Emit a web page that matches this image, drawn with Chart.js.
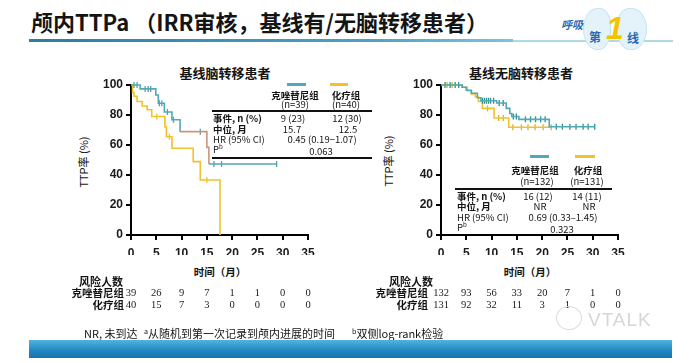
<!DOCTYPE html>
<html>
<head>
<meta charset="utf-8">
<script src="https://cdn.jsdelivr.net/npm/chart.js@4.4.0/dist/chart.umd.min.js"></script>
<style>
  body { margin: 0; background: #fff; }
  #page { position: relative; width: 690px; height: 363px; overflow: hidden; background: #fff;
          font-family: "Noto Sans CJK SC", "Liberation Sans", sans-serif; color: #141414; }
  canvas { position: absolute; left: 0; top: 0; }
  .t { position: absolute; white-space: nowrap; line-height: 1; transform: translateY(-50%); }
  .c { transform: translate(-50%, -50%); }
  .r { transform: translate(-100%, -50%); }
  .b { font-weight: bold; }
  .tb { font-size: 9.5px; }
  .ln { position: absolute; height: 3px; }
  .hl { position: absolute; height: 2px; background: #111; }
  .vt { transform: translate(-50%, -50%) rotate(-90deg); font-size: 11px; }
  sup { font-size: 65%; vertical-align: 4px; line-height: 0; }
</style>
</head>
<body>
<div id="page">
  <!-- header -->
  <div class="t b" style="left:31px;top:21px;font-size:22px;">颅内TTPa （IRR审核，基线有/无脑转移患者）</div>
  <div style="position:absolute;left:29px;top:39px;width:484px;height:3px;background:linear-gradient(to right,#2b7d9e,#4aa3c2 70%,#7cc4da);"></div>
  <div style="position:absolute;left:513px;top:40px;width:160px;height:2px;background:#b3d9e6;"></div>
  <div style="position:absolute;left:583px;top:8px;width:26px;height:40px;border-radius:50% 40% 45% 50%;background:#e4f3f9;border:1px solid #c5e5f1;"></div>
  <div style="position:absolute;left:617px;top:8px;width:28px;height:40px;border-radius:40% 50% 50% 45%;background:#e4f3f9;border:1px solid #c5e5f1;"></div>
  <div class="t b" style="left:561px;top:24px;font-size:11px;font-style:italic;color:#2a68b4;">呼吸</div>
  <div class="t b" style="left:589px;top:37px;font-size:12px;color:#2a68b4;">第</div>
  <div class="t b" style="left:606px;top:28px;font-size:32px;font-style:italic;color:#f2c400;font-family:'Liberation Sans';">1</div>
  <div class="t b" style="left:627px;top:38px;font-size:12px;color:#2a68b4;">线</div>

  <!-- chart titles -->
  <div class="t c b" style="left:225px;top:72px;font-size:13px;">基线脑转移患者</div>
  <div class="t c b" style="left:521px;top:72px;font-size:13px;">基线无脑转移患者</div>

  <!-- axis titles -->
  <div class="t vt" style="left:83px;top:162px;">TTP率 (%)</div>
  <div class="t vt" style="left:388px;top:161px;">TTP率 (%)</div>
  <div class="t c b" style="left:220px;top:272px;font-size:10.5px;">时间（月）</div>
  <div class="t c b" style="left:530px;top:272px;font-size:10.5px;">时间（月）</div>

  <canvas id="chartLeft" width="690" height="363"></canvas>
  <canvas id="chartRight" width="690" height="363"></canvas>

  <!-- left legend + summary table -->
  <div class="ln" style="left:287px;top:83px;width:19px;background:#4fa9b9;"></div>
  <div class="ln" style="left:330px;top:83px;width:18px;background:#f0c22c;"></div>
  <div class="t c b tb" style="left:295px;top:96px;">克唑替尼组</div>
  <div class="t c tb" style="left:295px;top:105px;">(n=39)</div>
  <div class="t c b tb" style="left:346px;top:96px;">化疗组</div>
  <div class="t c tb" style="left:346px;top:105px;">(n=40)</div>
  <div class="hl" style="left:212px;top:110px;width:160px;"></div>
  <div class="t b tb" style="left:213px;top:119px;">事件, n (%)</div>
  <div class="t c tb" style="left:293px;top:119px;">9 (23)</div>
  <div class="t c tb" style="left:347px;top:119px;">12 (30)</div>
  <div class="t b tb" style="left:213px;top:130px;">中位, 月</div>
  <div class="t c tb" style="left:292px;top:130px;">15.7</div>
  <div class="t c tb" style="left:348px;top:130px;">12.5</div>
  <div class="t tb" style="left:213px;top:140px;">HR (95% CI)</div>
  <div class="t c tb" style="left:322px;top:140px;">0.45 (0.19−1.07)</div>
  <div class="t tb" style="left:213px;top:150px;">P<sup>b</sup></div>
  <div class="t c tb" style="left:321px;top:152px;">0.063</div>
  <div class="hl" style="left:212px;top:157px;width:160px;"></div>

  <!-- right legend + summary table -->
  <div class="ln" style="left:530px;top:155px;width:19px;background:#4fa9b9;"></div>
  <div class="ln" style="left:575px;top:155px;width:20px;background:#f0c22c;"></div>
  <div class="t c b tb" style="left:535px;top:171px;">克唑替尼组</div>
  <div class="t c tb" style="left:537px;top:182px;">(n=132)</div>
  <div class="t c b tb" style="left:588px;top:171px;">化疗组</div>
  <div class="t c tb" style="left:587px;top:182px;">(n=131)</div>
  <div class="hl" style="left:455px;top:188px;width:157px;"></div>
  <div class="t b tb" style="left:457px;top:197px;">事件, n (%)</div>
  <div class="t c tb" style="left:538px;top:197px;">16 (12)</div>
  <div class="t c tb" style="left:587px;top:197px;">14 (11)</div>
  <div class="t b tb" style="left:457px;top:207px;">中位, 月</div>
  <div class="t c tb" style="left:540px;top:207px;">NR</div>
  <div class="t c tb" style="left:589px;top:207px;">NR</div>
  <div class="t tb" style="left:457px;top:218px;">HR (95% CI)</div>
  <div class="t c tb" style="left:563px;top:218px;">0.69 (0.33–1.45)</div>
  <div class="t tb" style="left:457px;top:228px;">P<sup>b</sup></div>
  <div class="t c tb" style="left:562px;top:230px;">0.323</div>

  <!-- risk table labels -->
  <div class="t b" style="left:79px;top:281px;font-size:11px;">风险人数</div>
  <div class="t r b" style="left:124px;top:293px;font-size:10.5px;">克唑替尼组</div>
  <div class="t r b" style="left:124px;top:305px;font-size:10.5px;">化疗组</div>
  <div class="t b" style="left:389px;top:281px;font-size:11px;">风险人数</div>
  <div class="t r b" style="left:428px;top:293px;font-size:10.5px;">克唑替尼组</div>
  <div class="t r b" style="left:428px;top:305px;font-size:10.5px;">化疗组</div>

  <!-- footnote, watermark, band -->
  <div class="t" style="left:84px;top:333px;font-size:11px;">NR, 未到达</div>
  <div class="t" style="left:144px;top:333px;font-size:11px;"><sup>a</sup>从随机到第一次记录到颅内进展的时间</div>
  <div class="t" style="left:352px;top:333px;font-size:11px;"><sup>b</sup>双侧log-rank检验</div>
  <div style="position:absolute;left:556px;top:306px;width:24px;height:22px;border-radius:50%;border:1.5px solid #dcdcdc;"></div>
  <div class="t" style="left:588px;top:319px;font-size:19px;color:#d6d6d6;font-family:'Liberation Sans';letter-spacing:1px;">VTALK</div>
  <div style="position:absolute;left:29px;top:340px;width:643px;height:18px;background:linear-gradient(to bottom,#4fb5de,#1f86c2 60%,#1a73ad);"></div>
</div>

<script>
const TEAL = '#4fa9b9';
const YELLOW = '#f0c22c';

// x positions of the number-at-risk columns (months)
const riskTimes = [0, 5, 10, 15, 20, 25, 30, 35];

// baseline brain metastases: KM steps (month, TTP %)
const leftCrizTime = [0, 1.8, 4.9, 5.4, 6.6, 8.1, 9.7, 15.0, 15.4, 28.8];
const leftCrizRate = [100, 97.4, 93.3, 87.8, 82.0, 76.8, 68.9, 58.4, 47.3, 47.3];
const leftCrizCensorTime = [0.6, 1.2, 2.8, 3.4, 3.9, 5.6, 6.1, 7.2, 8.4, 13.7, 16.4, 17.9, 28.8];
const leftCrizCensorRate = [100, 100, 97.4, 97.4, 97.4, 87.8, 87.8, 82.0, 76.8, 68.9, 47.3, 47.3, 47.3];
const leftChemoTime = [0, 0.3, 0.6, 1.2, 2.2, 3.2, 4.1, 6.7, 7.0, 8.1, 12.3, 13.7, 17.6];
const leftChemoRate = [100, 95, 92.5, 89, 86, 83.5, 79, 72, 65.5, 57.8, 48.9, 36.7, 0];
const leftChemoCensorTime = [5.1, 7.6, 15.0];
const leftChemoCensorRate = [79, 65.5, 36.7];
const leftRiskCriz = [39, 26, 9, 7, 1, 1, 0, 0];
const leftRiskChemo = [40, 15, 7, 3, 0, 0, 0, 0];

// no baseline brain metastases
const rightCrizTime = [0, 4.2, 5.0, 6.0, 7.2, 7.9, 11.0, 12.9, 13.6, 14.0, 15.4, 21.4, 30.4];
const rightCrizRate = [100, 98.5, 96.5, 94.5, 91.5, 89.5, 88.0, 84.4, 81.0, 79.0, 77.1, 72.2, 72.2];
const rightCrizCensorTime = [0.8, 1.8, 2.8, 3.5, 8.2, 8.6, 9.0, 9.4, 9.8, 10.4, 11.5, 12.3, 14.3, 14.9,
                             16.7, 17.7, 18.7, 19.7, 20.6, 22.8, 24.0, 25.5, 26.7, 28.1, 29.1, 30.4];
const rightCrizCensorRate = [100, 100, 100, 100, 89.5, 89.5, 89.5, 89.5, 89.5, 89.5, 88.0, 88.0, 79.0, 79.0,
                             77.1, 77.1, 77.1, 77.1, 77.1, 72.2, 72.2, 72.2, 72.2, 72.2, 72.2, 72.2];
const rightChemoTime = [0, 4.1, 5.2, 6.0, 6.8, 7.4, 8.2, 10.5, 13.4, 21.8];
const rightChemoRate = [100, 98.5, 96.2, 94.0, 92.0, 89.0, 84.4, 78.0, 71.8, 71.8];
const rightChemoCensorTime = [1.2, 2.2, 9.2, 11.4, 12.3, 14.2, 15.9, 17.2, 18.6, 20.2, 21.8];
const rightChemoCensorRate = [100, 100, 84.4, 78.0, 78.0, 71.8, 71.8, 71.8, 71.8, 71.8, 71.8];
const rightRiskCriz = [132, 93, 56, 33, 20, 7, 1, 0];
const rightRiskChemo = [131, 92, 32, 11, 3, 1, 0, 0];

function points(times, rates) {
    return times.map((t, i) => ({ x: t, y: rates[i] }));
}

function kmLine(times, rates, color, segmentColor) {
    const ds = {
        data: points(times, rates),
        stepped: 'before',
        borderColor: color,
        borderWidth: 1.6,
        pointRadius: 0,
        fill: false,
        clip: false
    };
    if (segmentColor) ds.segment = { borderColor: segmentColor };
    return ds;
}

function censorMarks(times, rates, color) {
    return {
        data: points(times, rates),
        showLine: false,
        pointStyle: 'line',
        rotation: 90,
        pointRadius: 3,
        borderColor: color,
        borderWidth: 1.3,
        clip: false
    };
}

// numbers at risk, drawn under the x axis at the tick positions
const riskPlugin = {
    id: 'riskTable',
    afterDraw(chart, args, opts) {
        const { ctx } = chart;
        const x = chart.scales.x;
        ctx.save();
        ctx.font = '10.5px "Liberation Serif"';
        ctx.fillStyle = '#1a1a1a';
        ctx.textAlign = 'center';
        ctx.textBaseline = 'middle';
        opts.rows.forEach((row, r) => {
            row.forEach((v, i) => ctx.fillText(String(v), x.getPixelForValue(riskTimes[i]), opts.rowY[r]));
        });
        ctx.restore();
    }
};

function makeChart(id, areaLeft, datasets, riskRows) {
    const ctx = document.getElementById(id).getContext('2d');
    const tickFont = { family: 'Liberation Sans', size: 12, weight: 'bold' };
    const axisStyle = {
        grid: { drawOnChartArea: false, color: '#000', lineWidth: 2, tickLength: 5 },
        border: { color: '#000', width: 2 }
    };
    return new Chart(ctx, {
        type: 'line',
        data: { datasets: datasets },
        options: {
            responsive: false,
            animation: false,
            devicePixelRatio: 1,
            layout: { padding: { left: areaLeft - 31, right: 690 - areaLeft - 177, top: 85, bottom: 108 } },
            plugins: {
                legend: { display: false },
                tooltip: { enabled: false },
                riskTable: { rows: riskRows, rowY: [293, 305] }
            },
            scales: {
                x: {
                    type: 'linear', min: 0, max: 35,
                    ticks: { stepSize: 5, padding: 6, color: '#1a1a1a', font: tickFont },
                    ...axisStyle,
                    afterFit(scale) { scale.height = 20; }
                },
                y: {
                    type: 'linear', min: 0, max: 100,
                    ticks: { stepSize: 20, padding: 3, color: '#1a1a1a', font: tickFont },
                    ...axisStyle,
                    afterFit(scale) { scale.width = 31; }
                }
            }
        },
        plugins: [riskPlugin]
    });
}

// part of the crizotinib curve in the left panel is printed in a brownish tone
const leftSegColor = c => (c.p0DataIndex === 6 || c.p0DataIndex === 7) ? '#c9977c' : TEAL;

makeChart('chartLeft', 131, [
    kmLine(leftCrizTime, leftCrizRate, TEAL, leftSegColor),
    censorMarks(leftCrizCensorTime, leftCrizCensorRate, '#5f9aa6'),
    kmLine(leftChemoTime, leftChemoRate, YELLOW),
    censorMarks(leftChemoCensorTime, leftChemoCensorRate, YELLOW)
], [leftRiskCriz, leftRiskChemo]);

makeChart('chartRight', 441, [
    kmLine(rightCrizTime, rightCrizRate, TEAL),
    censorMarks(rightCrizCensorTime, rightCrizCensorRate, '#2f8f8a'),
    kmLine(rightChemoTime, rightChemoRate, YELLOW),
    censorMarks(rightChemoCensorTime, rightChemoCensorRate, '#d8b030')
], [rightRiskCriz, rightRiskChemo]);
</script>
</body>
</html>
